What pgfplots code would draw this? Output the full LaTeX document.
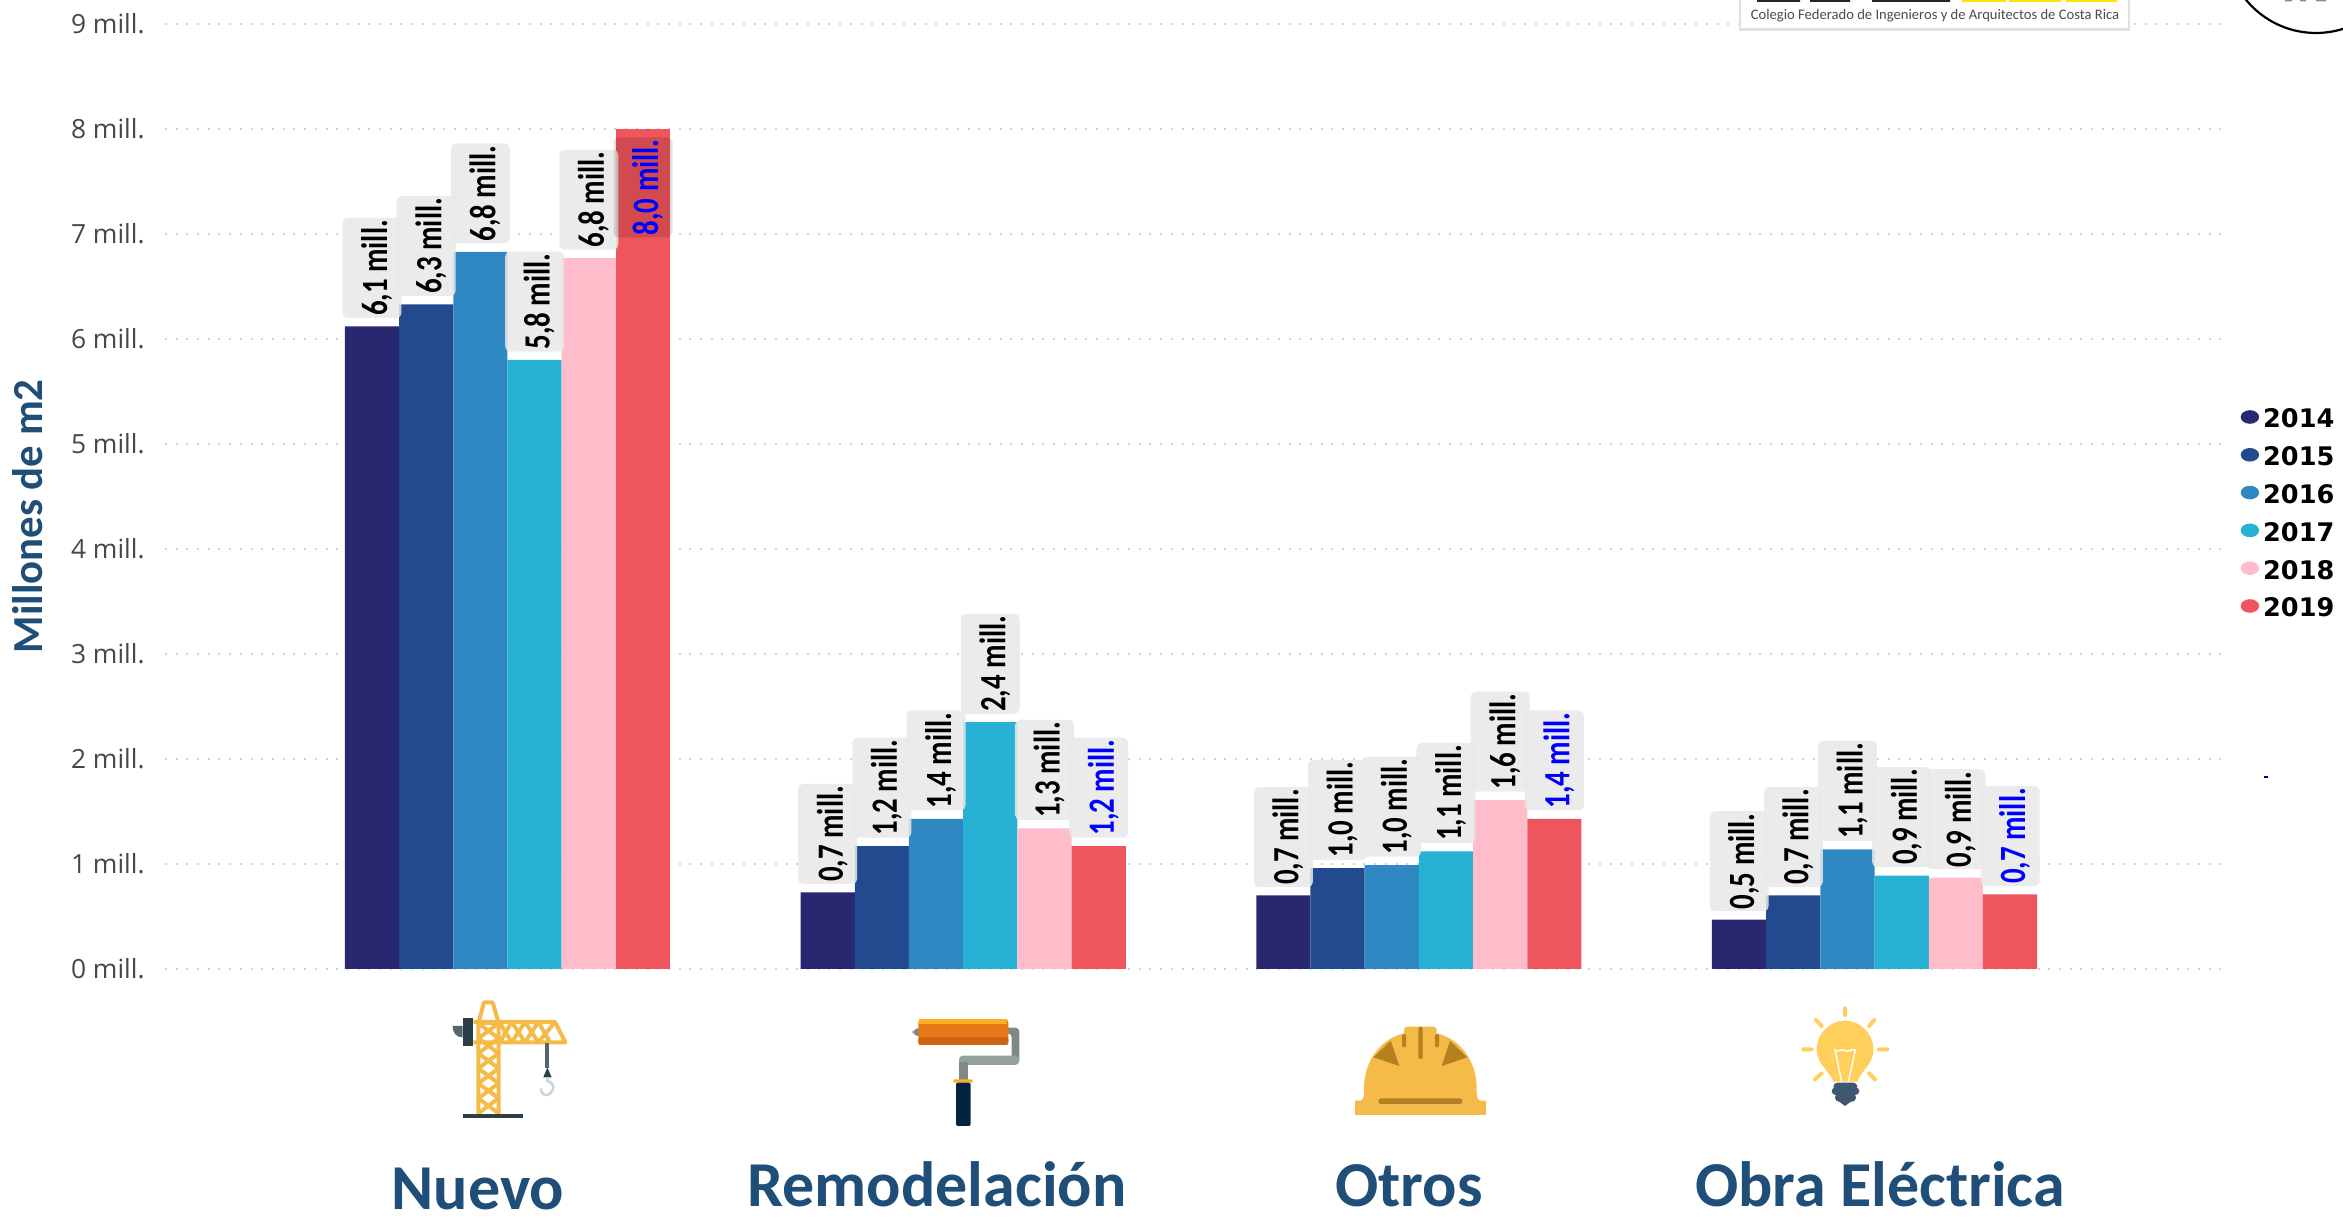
\documentclass[border=0pt]{standalone}
\usepackage{fontspec}
\usepackage{pgfplots}
\pgfplotsset{compat=1.18}
\setmainfont{Carlito}
\newfontfamily\tickfont{Open Sans}
\newfontfamily\legfont{DejaVu Sans}
\newfontfamily\barfont[FakeStretch=0.78]{Carlito}

\definecolor{c14}{HTML}{29276F}
\definecolor{c15}{HTML}{234A8F}
\definecolor{c16}{HTML}{2F88C1}
\definecolor{c17}{HTML}{27B1D4}
\definecolor{c18}{HTML}{FFBCCB}
\definecolor{c19}{HTML}{EE555C}
\definecolor{titleblue}{HTML}{1F4E79}
\definecolor{iconyellow}{HTML}{F4BB48}
\definecolor{icondark}{HTML}{B5801F}
\definecolor{armdark}{HTML}{7F8A87}
\definecolor{armlight}{HTML}{95A19D}
\definecolor{steeldark}{HTML}{2C3E47}
\definecolor{steel}{HTML}{56666E}
\definecolor{hook}{HTML}{CBD6DB}
\definecolor{roller}{HTML}{E67A18}
\definecolor{rollertop}{HTML}{FDAE22}
\definecolor{rollerlow}{HTML}{CF6410}
\definecolor{handle}{HTML}{03233F}
\definecolor{bulb}{HTML}{FFCF5C}
\definecolor{bulbbase}{HTML}{3F5870}

\pgfplotsset{
  yearbar/.style={
    fill=#1, draw=none,
    legend image code/.code={\fill[#1] (0.12cm,0.03cm) ellipse [x radius=4.6pt,y radius=3.4pt];}
  }
}

\begin{document}
\begin{tikzpicture}
% page = 2343x1218 px of the reference, 1 px = 0.5 pt, axis corner at (165,969)
\path[use as bounding box] (-82.5pt,-124.5pt) rectangle (1089pt,484.5pt);
\begin{axis}[
  at={(0,0)}, anchor=south west,
  scale only axis,
  width=1032pt, height=472.5pt,
  ybar=0pt, bar width=27.1pt,
  xmin=-0.7516, xmax=3.7777,
  ymin=0, ymax=9,
  clip=false,
  axis line style={draw=none},
  tick style={draw=none},
  ytick={0,1,2,3,4,5,6,7,8,9},
  yticklabels={0 mill.,1 mill.,2 mill.,3 mill.,4 mill.,5 mill.,6 mill.,7 mill.,8 mill.,9 mill.},
  y tick label style={font=\tickfont\fontsize{13.2}{13.2}\selectfont, text=black!72, anchor=east, xshift=-10pt, inner sep=0pt},
  ymajorgrids,
  grid style={draw=black!17, line width=1pt, dash pattern=on 1pt off 4.35pt},
  xtick={-0.065,0.9425,1.978,3.012},
  xticklabels={\raisebox{-1.6pt}{Nuevo},Remodelación,Otros,Obra Eléctrica},
  x tick label style={font=\bfseries\fontsize{32}{32}\selectfont, text=titleblue, anchor=base, yshift=-114.3pt, inner sep=0pt},
  ylabel={Millones de m2},
  ylabel style={at={(axis description cs:-0.0664,0.479)}, anchor=center, font=\bfseries\fontsize{21.4}{21.4}\selectfont, text=titleblue},
  point meta=explicit symbolic,
  nodes near coords,
  nodes near coords style={
    font=\barfont\bfseries\fontsize{18.5}{18.5}\selectfont, text=black,
    rotate=90, anchor=west, xshift=4pt, inner sep=0pt,
    text height=15.1pt, text depth=0pt,
    minimum width=50pt, minimum height=29.5pt,
    fill=black!9, fill opacity=0.85, text opacity=1, rounded corners=2.5pt
  },
  legend style={
    at={(1.0055,0.5925)}, anchor=north west, draw=none, fill=none, inner sep=0pt,
    font=\legfont\bfseries\fontsize{12.8}{12.8}\selectfont,
    nodes={inner sep=0pt, text height=9.2pt, text depth=0pt},
    row sep=9.7pt, column sep=2pt
  },
  legend cell align=left,
]
\addplot[yearbar=c14,bar shift=-67.75pt] coordinates {(0,6.12) [6,1 mill.] (1,0.73) [0,7 mill.] (2,0.70) [0,7 mill.] (3,0.47) [0,5 mill.]};
\addplot[yearbar=c15,bar shift=-40.65pt] coordinates {(0,6.33) [6,3 mill.] (1,1.17) [1,2 mill.] (2,0.96) [1,0 mill.] (3,0.70) [0,7 mill.]};
\addplot[yearbar=c16,bar shift=-13.55pt] coordinates {(0,6.83) [6,8 mill.] (1,1.43) [1,4 mill.] (2,0.99) [1,0 mill.] (3,1.14) [1,1 mill.]};
\addplot[yearbar=c17,bar shift=13.55pt] coordinates {(0,5.80) [5,8 mill.] (1,2.35) [2,4 mill.] (2,1.12) [1,1 mill.] (3,0.89) [0,9 mill.]};
\addplot[yearbar=c18,bar shift=40.65pt] coordinates {(0,6.77) [6,8 mill.] (1,1.34) [1,3 mill.] (2,1.61) [1,6 mill.] (3,0.87) [0,9 mill.]};
\addplot[yearbar=c19,bar shift=67.75pt,nodes near coords style={text=blue}]
  coordinates {(1,1.17) [1,2 mill.] (2,1.43) [1,4 mill.] (3,0.71) [0,7 mill.]};
% the tallest 2019 bar keeps its label inside, on a darker box
\addplot[yearbar=c19,bar shift=67.75pt,forget plot,
  nodes near coords style={text=blue, anchor=east, xshift=-8pt, fill=black, fill opacity=0.12}]
  coordinates {(0,8.00) [8,0 mill.]};
\legend{2014,2015,2016,2017,2018,2019}
\end{axis}

% everything below is in pixels of the reference
\begin{scope}[x=0.5pt,y=-0.5pt,shift={(-165,-969)}]
\clip (0,0) rectangle (2343,1218);

% logo box, cut by the top edge
\fill[black!12] (1739,-5) rectangle (2130,31);
\fill[white] (1741,-5) rectangle (2128,28);
\fill[black!85] (1757,0) rectangle (1800,2) (1810,0) rectangle (1850,2) (1872,0) rectangle (1950,2);
\fill[yellow!85!orange] (1962,0) rectangle (2006,2) (2009,0) rectangle (2061,2) (2066,0) rectangle (2117,2);
\node[font=\fontsize{7.3}{8}\selectfont, text=black!70, inner sep=0pt] at (1935,16) {Colegio Federado de Ingenieros y de Arquitectos de Costa Rica};
% round stamp, cut by the corner
\draw[black, line width=1.1pt] (2316,-57.5) circle [radius=90.5];
\fill[black!45] (2285,0) rectangle (2292,1.5) (2300,0) rectangle (2306,1.5) (2316,0) rectangle (2326,1.5);
\fill[blue!70!black] (2264,776) rectangle (2268,778);

% crane
\begin{scope}[shift={(440,990)},x=0.16667pt,y=-0.16667pt]
\fill[steel] (38,108) -- (68,108) -- (68,142) .. controls (50,142) and (38,130) .. cycle;
\begin{scope}[draw=iconyellow,line width=2pt,line join=round]
\draw (115,372) -- (115,100) -- (132,37) -- (158,37) -- (176,100) -- (176,372);
\draw (115,100) -- (176,100);
\draw (115,100) -- (176,145) -- (115,190) -- (176,235) -- (115,280) -- (176,325) -- (115,370);
\draw (176,100) -- (115,145) -- (176,190) -- (115,235) -- (176,280) -- (115,325) -- (176,370);
\draw (100,96) -- (345,96) -- (376,157) -- (100,157);
\draw (178,96) -- (215,157) -- (255,96) -- (295,157) -- (345,96);
\draw (215,96) -- (180,157);
\draw (215,96) -- (255,157) -- (295,96) -- (330,157);
\end{scope}
\fill[steeldark] (68,85) rectangle (98,167);
\fill[steeldark] (70,372) rectangle (250,383);
\fill[steel] (316,160) rectangle (328,235);
\fill[steeldark] (322,232) -- (335,262) -- (310,262) -- cycle;
\draw[hook, line width=1.3pt] (322,262) -- (322,272) .. controls (355,285) and (335,315) .. (318,315) .. controls (308,315) and (302,305) .. (303,295);
\end{scope}

% paint roller
\begin{scope}[shift={(900,1000)},x=0.16667pt,y=-0.16667pt]
\fill[armdark,rounded corners=3pt] (38,85) rectangle (70,108);
\fill[armdark,rounded corners=2pt] (310,83) -- (358,83) -- (358,190) -- (335,190) -- (335,100) -- (310,100) -- cycle;
\fill[armlight,rounded corners=2pt] (177,167) rectangle (358,195);
\fill[armdark] (177,185) rectangle (205,240);
\fill[roller,rounded corners=1.5pt] (55,58) rectangle (325,135);
\fill[rollertop] (58,58) rectangle (322,72);
\fill[rollerlow,rounded corners=1pt] (55,112) rectangle (325,135);
\fill[rollertop,rounded corners=0.5pt] (160,238) rectangle (218,248);
\fill[handle,rounded corners=1pt] (168,248) rectangle (212,378);
\end{scope}

% helmet
\begin{scope}[shift={(1340,1010)},x=0.16667pt,y=-0.16667pt]
\fill[iconyellow] (45,315) -- (45,272) -- (60,272) .. controls (68,272) and (72,262) .. (72,250) -- (72,235)
  .. controls (72,150) and (125,85) .. (192,70) -- (192,60) .. controls (192,54) and (196,50) .. (202,50) -- (280,50)
  .. controls (286,50) and (290,54) .. (290,60) -- (290,70) .. controls (357,85) and (410,150) .. (410,235) -- (410,250)
  .. controls (410,262) and (414,272) .. (422,272) -- (438,272) -- (438,315) -- cycle;
\fill[icondark] (100,142) -- (152,92) -- (178,168) -- cycle (382,142) -- (330,92) -- (305,168) -- cycle;
\fill[icondark,rounded corners=1.3pt] (115,265) rectangle (367,282);
\fill[icondark,rounded corners=1pt] (235,50) rectangle (248,147);
\fill[icondark,rounded corners=1pt] (186,72) rectangle (198,112);
\fill[icondark,rounded corners=1pt] (285,72) rectangle (297,112);
\end{scope}

% light bulb
\begin{scope}[shift={(1780,1000)},x=0.16667pt,y=-0.16667pt]
\fill[bulb] (160,245) .. controls (150,212) and (110,195) .. (110,148) .. controls (110,100) and (150,62) .. (195,62)
  .. controls (240,62) and (280,100) .. (280,148) .. controls (280,195) and (242,212) .. (232,245) -- cycle;
\draw[bulb,line width=2pt,line cap=round] (195,25) -- (195,45) (108,60) -- (125,78) (283,60) -- (267,78)
  (70,148) -- (95,148) (297,148) -- (322,148) (105,238) -- (125,220) (285,238) -- (267,220);
\draw[white,line width=0.7pt] (185,245) -- (165,150) .. controls (175,158) and (185,145) .. (195,152) .. controls (205,158) and (215,145) .. (226,150) -- (205,245);
\fill[bulbbase,rounded corners=2pt] (160,248) rectangle (232,270);
\fill[bulbbase,rounded corners=2pt] (155,262) rectangle (238,285);
\fill[bulbbase,rounded corners=2pt] (165,280) rectangle (228,305);
\fill[bulbbase] (175,303) -- (215,303) -- (195,318) -- cycle;
\end{scope}
\end{scope}
\end{tikzpicture}
\end{document}
